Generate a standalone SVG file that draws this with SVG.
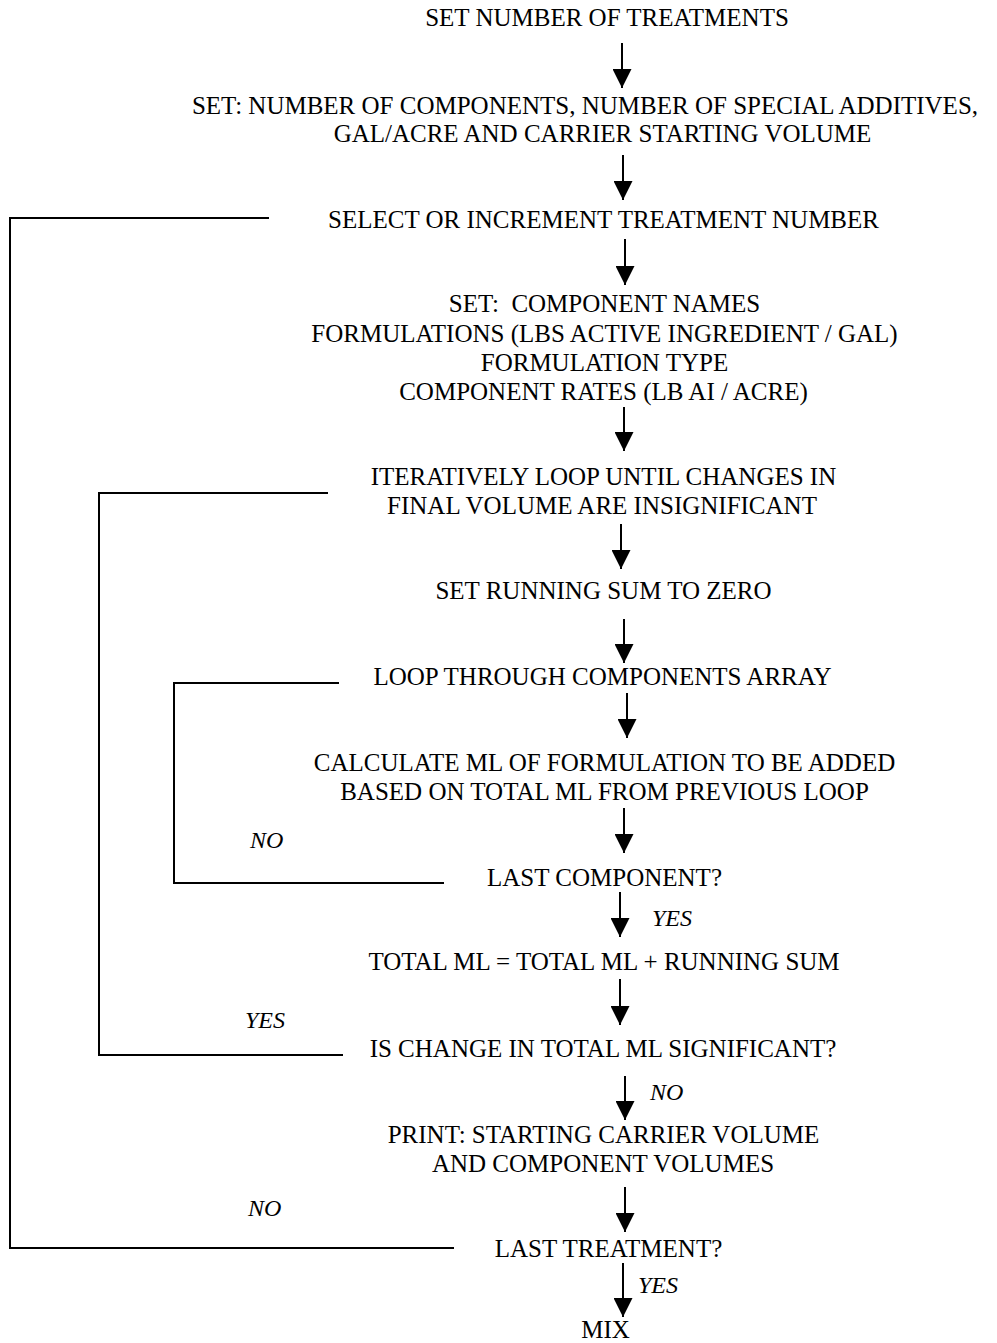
<svg xmlns="http://www.w3.org/2000/svg" width="997" height="1343" viewBox="0 0 997 1343">
<defs>
<style>
.t{font-family:"Liberation Serif","Times New Roman",serif;font-size:25px;fill:#000;text-anchor:middle}
.l{font-family:"Liberation Serif","Times New Roman",serif;font-size:24px;font-style:italic;fill:#000}
.c{stroke:#000;stroke-width:2;fill:none}
</style>
<marker id="ah" viewBox="0 0 19 19" markerWidth="19" markerHeight="19" markerUnits="userSpaceOnUse" refX="19" refY="9.5" orient="auto">
<path d="M0,0 L19,9.5 L0,19 z" fill="#000"/>
</marker>
</defs>
<rect width="997" height="1343" fill="#fff"/>
<g id="connectors">
<line class="c" x1="622" y1="43" x2="622" y2="88" marker-end="url(#ah)"/>
<line class="c" x1="623" y1="155" x2="623" y2="200" marker-end="url(#ah)"/>
<line class="c" x1="625" y1="239" x2="625" y2="285" marker-end="url(#ah)"/>
<line class="c" x1="624" y1="407" x2="624" y2="451" marker-end="url(#ah)"/>
<line class="c" x1="621" y1="524" x2="621" y2="569" marker-end="url(#ah)"/>
<line class="c" x1="624" y1="619" x2="624" y2="663" marker-end="url(#ah)"/>
<line class="c" x1="627" y1="693" x2="627" y2="738" marker-end="url(#ah)"/>
<line class="c" x1="624" y1="808" x2="624" y2="853" marker-end="url(#ah)"/>
<line class="c" x1="620" y1="892" x2="620" y2="937" marker-end="url(#ah)"/>
<line class="c" x1="620" y1="979" x2="620" y2="1025" marker-end="url(#ah)"/>
<line class="c" x1="625" y1="1076" x2="625" y2="1120" marker-end="url(#ah)"/>
<line class="c" x1="625" y1="1187" x2="625" y2="1232" marker-end="url(#ah)"/>
<line class="c" x1="623" y1="1263" x2="623" y2="1317" marker-end="url(#ah)"/>
<polyline class="c" points="269,218 10,218 10,1248 454,1248"/>
<polyline class="c" points="328,493 99,493 99,1055 343,1055"/>
<polyline class="c" points="339,683 174,683 174,883 444,883"/>
</g>
<g id="n1"><text class="t" x="607" y="26">SET NUMBER OF TREATMENTS</text></g>
<g id="n2"><text class="t" x="585" y="114">SET: NUMBER OF COMPONENTS, NUMBER OF SPECIAL ADDITIVES,</text><text class="t" x="602.5" y="142">GAL/ACRE AND CARRIER STARTING VOLUME</text></g>
<g id="n3"><text class="t" x="603.5" y="228">SELECT OR INCREMENT TREATMENT NUMBER</text></g>
<g id="n4"><text class="t" x="604.5" y="312" xml:space="preserve">SET:  COMPONENT NAMES</text><text class="t" x="604.5" y="342">FORMULATIONS (LBS ACTIVE INGREDIENT / GAL)</text><text class="t" x="604.5" y="371">FORMULATION TYPE</text><text class="t" x="603.5" y="400">COMPONENT RATES (LB AI / ACRE)</text></g>
<g id="n5"><text class="t" x="603.5" y="485">ITERATIVELY LOOP UNTIL CHANGES IN</text><text class="t" x="602" y="514">FINAL VOLUME ARE INSIGNIFICANT</text></g>
<g id="n6"><text class="t" x="603.5" y="599">SET RUNNING SUM TO ZERO</text></g>
<g id="n7"><text class="t" x="602.5" y="685">LOOP THROUGH COMPONENTS ARRAY</text></g>
<g id="n8"><text class="t" x="604.5" y="771">CALCULATE ML OF FORMULATION TO BE ADDED</text><text class="t" x="604.5" y="800">BASED ON TOTAL ML FROM PREVIOUS LOOP</text></g>
<g id="n9"><text class="t" x="604.5" y="886">LAST COMPONENT?</text></g>
<g id="n10"><text class="t" x="604" y="970">TOTAL ML = TOTAL ML + RUNNING SUM</text></g>
<g id="n11"><text class="t" x="603" y="1057">IS CHANGE IN TOTAL ML SIGNIFICANT?</text></g>
<g id="n12"><text class="t" x="603.5" y="1143">PRINT: STARTING CARRIER VOLUME</text><text class="t" x="603" y="1172">AND COMPONENT VOLUMES</text></g>
<g id="n13"><text class="t" x="608.5" y="1257">LAST TREATMENT?</text></g>
<g id="n14"><text class="t" x="605.5" y="1338">MIX</text></g>
<g id="labels">
<text class="l" x="250" y="848">NO</text>
<text class="l" x="652" y="926">YES</text>
<text class="l" x="245" y="1028">YES</text>
<text class="l" x="650" y="1100">NO</text>
<text class="l" x="248" y="1216">NO</text>
<text class="l" x="638" y="1293">YES</text>
</g>
</svg>
